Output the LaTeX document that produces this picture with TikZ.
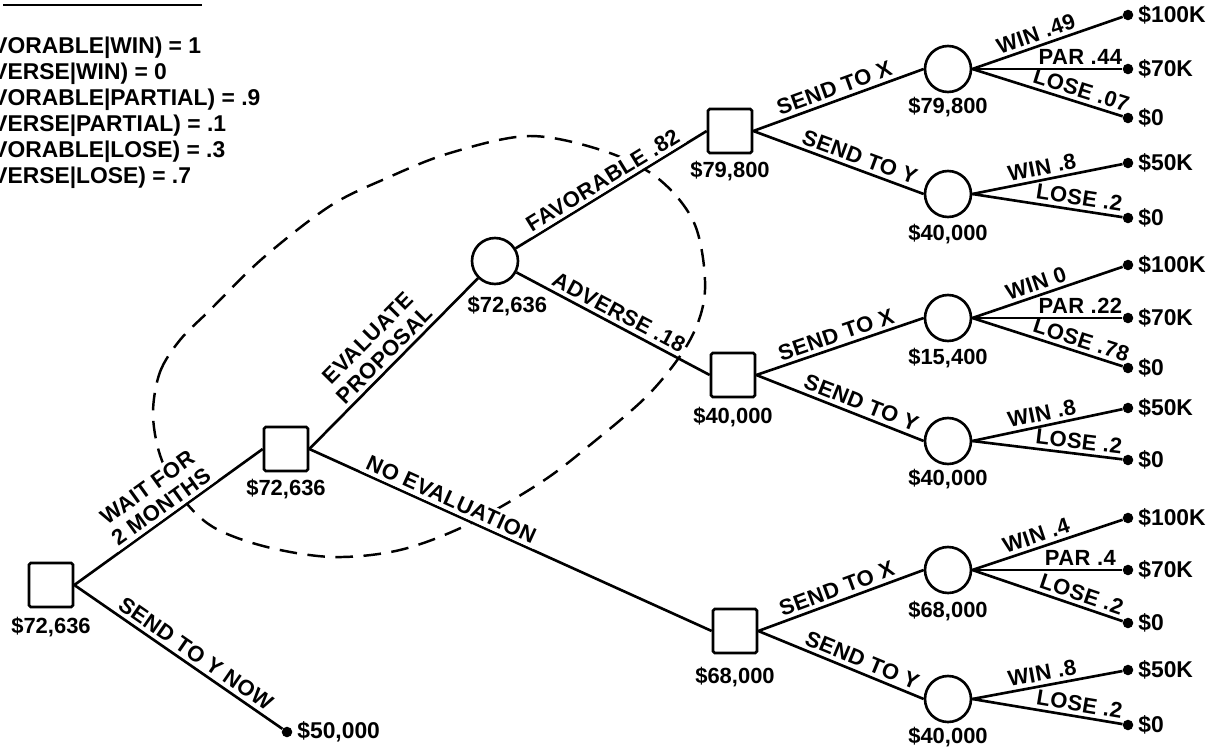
\documentclass[tikz,border=0pt]{standalone}
\usepackage{fontspec}
\setmainfont{Liberation Sans}
\usetikzlibrary{positioning}

\newcommand{\valfont}{\fontsize{12.5}{14}\selectfont\bfseries}
\newcommand{\payfont}{\fontsize{13}{15}\selectfont\bfseries}
\newcommand{\edgefont}{\fontsize{12.5}{13.5}\selectfont\bfseries\addfontfeature{LetterSpace=2}}
\newcommand{\condfont}{\fontsize{13}{14.8}\selectfont\bfseries}

\begin{document}
\begin{tikzpicture}[x=0.02cm, y=-0.02cm,
    decision/.style={rectangle, draw, line width=1.5pt, rounded corners=1pt, minimum size=0.88cm},
    chance/.style={circle, draw, line width=1.5pt, minimum size=0.92cm},
    leaf/.style={circle, fill, inner sep=0pt, minimum size=6pt, label={[pay]right:#1}},
    val/.style={font=\valfont, inner sep=2pt},
    pay/.style={font=\payfont, inner sep=2pt, label distance=0.5pt},
    br/.style={line width=1.5pt},
    lbl/.style={sloped, above, font=\edgefont, inner sep=2pt},
    evalzone/.style={line width=1.4pt, dash pattern=on 10pt off 6pt},
]
    \useasboundingbox (0,0) rectangle (1225,754);
    \clip (0,0) rectangle (1225,754);

    % conditionals, cut at the left edge
    \draw[line width=1.2pt] (3,5) -- (202,5);
    \node[font=\condfont, align=left, anchor=north west, inner sep=0pt] (conds) at (-8,37)
        {VORABLE|WIN) = 1\\VERSE|WIN) = 0\\VORABLE|PARTIAL) = .9\\VERSE|PARTIAL) = .1\\VORABLE|LOSE) = .3\\VERSE|LOSE) = .7};

    % evaluation region
    \draw[evalzone] plot[smooth cycle, tension=0.55] coordinates {
        (153,413) (160,372) (180,340) (210,310) (263,258) (330,206) (387,178)
        (450,153) (530,136) (607,152) (660,180) (695,225) (705,290) (690,340)
        (650,393) (590,445) (540,483) (467,525) (400,550) (333,557) (267,547)
        (213,527) (180,495) (160,455)};

    % decisions and chance events
    \node[decision, label={[val, label distance=3pt]below:\$72,636}] (d0) at (51,585) {};
    \node[decision, label={[val, label distance=2pt]below:\$72,636}] (d1) at (286,449) {};
    \node[chance, label={[val, label distance=4pt, xshift=7pt]below:\$72,636}] (ev) at (495,261) {};
    \node[decision, label={[val, label distance=2pt]below:\$79,800}] (dfav) at (730,131) {};
    \node[decision, label={[val, label distance=3pt]below:\$40,000}] (dadv) at (733,375) {};
    \node[decision, label={[val, label distance=5pt]below:\$68,000}] (dnoev) at (735,631) {};

    \node[chance, label={[val, label distance=0pt]below:\$79,800}] (cfx) at (948,69) {};
    \node[chance, label={[val, label distance=1pt]below:\$40,000}] (cfy) at (948,194) {};
    \node[chance, label={[val, label distance=1pt]below:\$15,400}] (cax) at (948,318) {};
    \node[chance, label={[val, label distance=0pt]below:\$40,000}] (cay) at (948,441) {};
    \node[chance, label={[val, label distance=2pt]below:\$68,000}] (cnx) at (948,570) {};
    \node[chance, label={[val, label distance=0pt]below:\$40,000}] (cny) at (948,699) {};

    % payoffs
    \node[leaf={\$50,000}] (now) at (287,732) {};
    \node[leaf=\$100K] (fxw) at (1128,15) {};
    \node[leaf=\$70K] (fxp) at (1128,69) {};
    \node[leaf=\$0] (fxl) at (1128,118) {};
    \node[leaf=\$50K] (fyw) at (1128,163) {};
    \node[leaf=\$0] (fyl) at (1128,218) {};
    \node[leaf=\$100K] (axw) at (1128,265) {};
    \node[leaf=\$70K] (axp) at (1128,318) {};
    \node[leaf=\$0] (axl) at (1128,368) {};
    \node[leaf=\$50K] (ayw) at (1128,408) {};
    \node[leaf=\$0] (ayl) at (1128,460) {};
    \node[leaf=\$100K] (nxw) at (1128,518) {};
    \node[leaf=\$70K] (nxp) at (1128,570) {};
    \node[leaf=\$0] (nxl) at (1128,623) {};
    \node[leaf=\$50K] (nyw) at (1128,670) {};
    \node[leaf=\$0] (nyl) at (1128,725) {};

    % branches
    \draw[br] (d0.east) -- node[lbl, fill=white, align=center] {WAIT FOR\\2 MONTHS} (d1.west);
    \draw[br] (d0.east) -- node[lbl, pos=0.55] {SEND TO Y NOW} (now);
    \draw[br] (d1.east) -- node[lbl, align=center, pos=0.5] {EVALUATE\\PROPOSAL} (ev);
    \draw[br] (d1.east) -- node[lbl, fill=white, pos=0.34] {NO EVALUATION} (dnoev.west);
    \draw[br] (ev) -- node[lbl, fill=white, pos=0.49] {FAVORABLE .82} (dfav.west);
    \draw[br] (ev) -- node[lbl, pos=0.5] {ADVERSE .18} (dadv.west);

    \draw[br] (dfav.east) -- node[lbl, pos=0.5] {SEND TO X} (cfx.west);
    \draw[br] (dfav.east) -- node[lbl, pos=0.6] {SEND TO Y} (cfy.west);
    \draw[br] (dadv.east) -- node[lbl, pos=0.5] {SEND TO X} (cax.west);
    \draw[br] (dadv.east) -- node[lbl, pos=0.6] {SEND TO Y} (cay.west);
    \draw[br] (dnoev.east) -- node[lbl, pos=0.5] {SEND TO X} (cnx.west);
    \draw[br] (dnoev.east) -- node[lbl, pos=0.6] {SEND TO Y} (cny.west);

    \draw[br] (cfx.east) -- node[lbl, pos=0.45] {WIN .49} (fxw);
    \draw[br] (cfx.east) -- node[lbl, pos=0.72] {PAR .44} (fxp);
    \draw[br] (cfx.east) -- node[lbl, pos=0.7] {LOSE .07} (fxl);
    \draw[br] (cfy.east) -- node[lbl, pos=0.48] {WIN .8} (fyw);
    \draw[br] (cfy.east) -- node[lbl, pos=0.7] {LOSE .2} (fyl);
    \draw[br] (cax.east) -- node[lbl, pos=0.45] {WIN 0} (axw);
    \draw[br] (cax.east) -- node[lbl, pos=0.72] {PAR .22} (axp);
    \draw[br] (cax.east) -- node[lbl, pos=0.7] {LOSE .78} (axl);
    \draw[br] (cay.east) -- node[lbl, pos=0.48] {WIN .8} (ayw);
    \draw[br] (cay.east) -- node[lbl, pos=0.7] {LOSE .2} (ayl);
    \draw[br] (cnx.east) -- node[lbl, pos=0.45] {WIN .4} (nxw);
    \draw[br] (cnx.east) -- node[lbl, pos=0.72] {PAR .4} (nxp);
    \draw[br] (cnx.east) -- node[lbl, pos=0.7] {LOSE .2} (nxl);
    \draw[br] (cny.east) -- node[lbl, pos=0.48] {WIN .8} (nyw);
    \draw[br] (cny.east) -- node[lbl, pos=0.7] {LOSE .2} (nyl);
\end{tikzpicture}
\end{document}
